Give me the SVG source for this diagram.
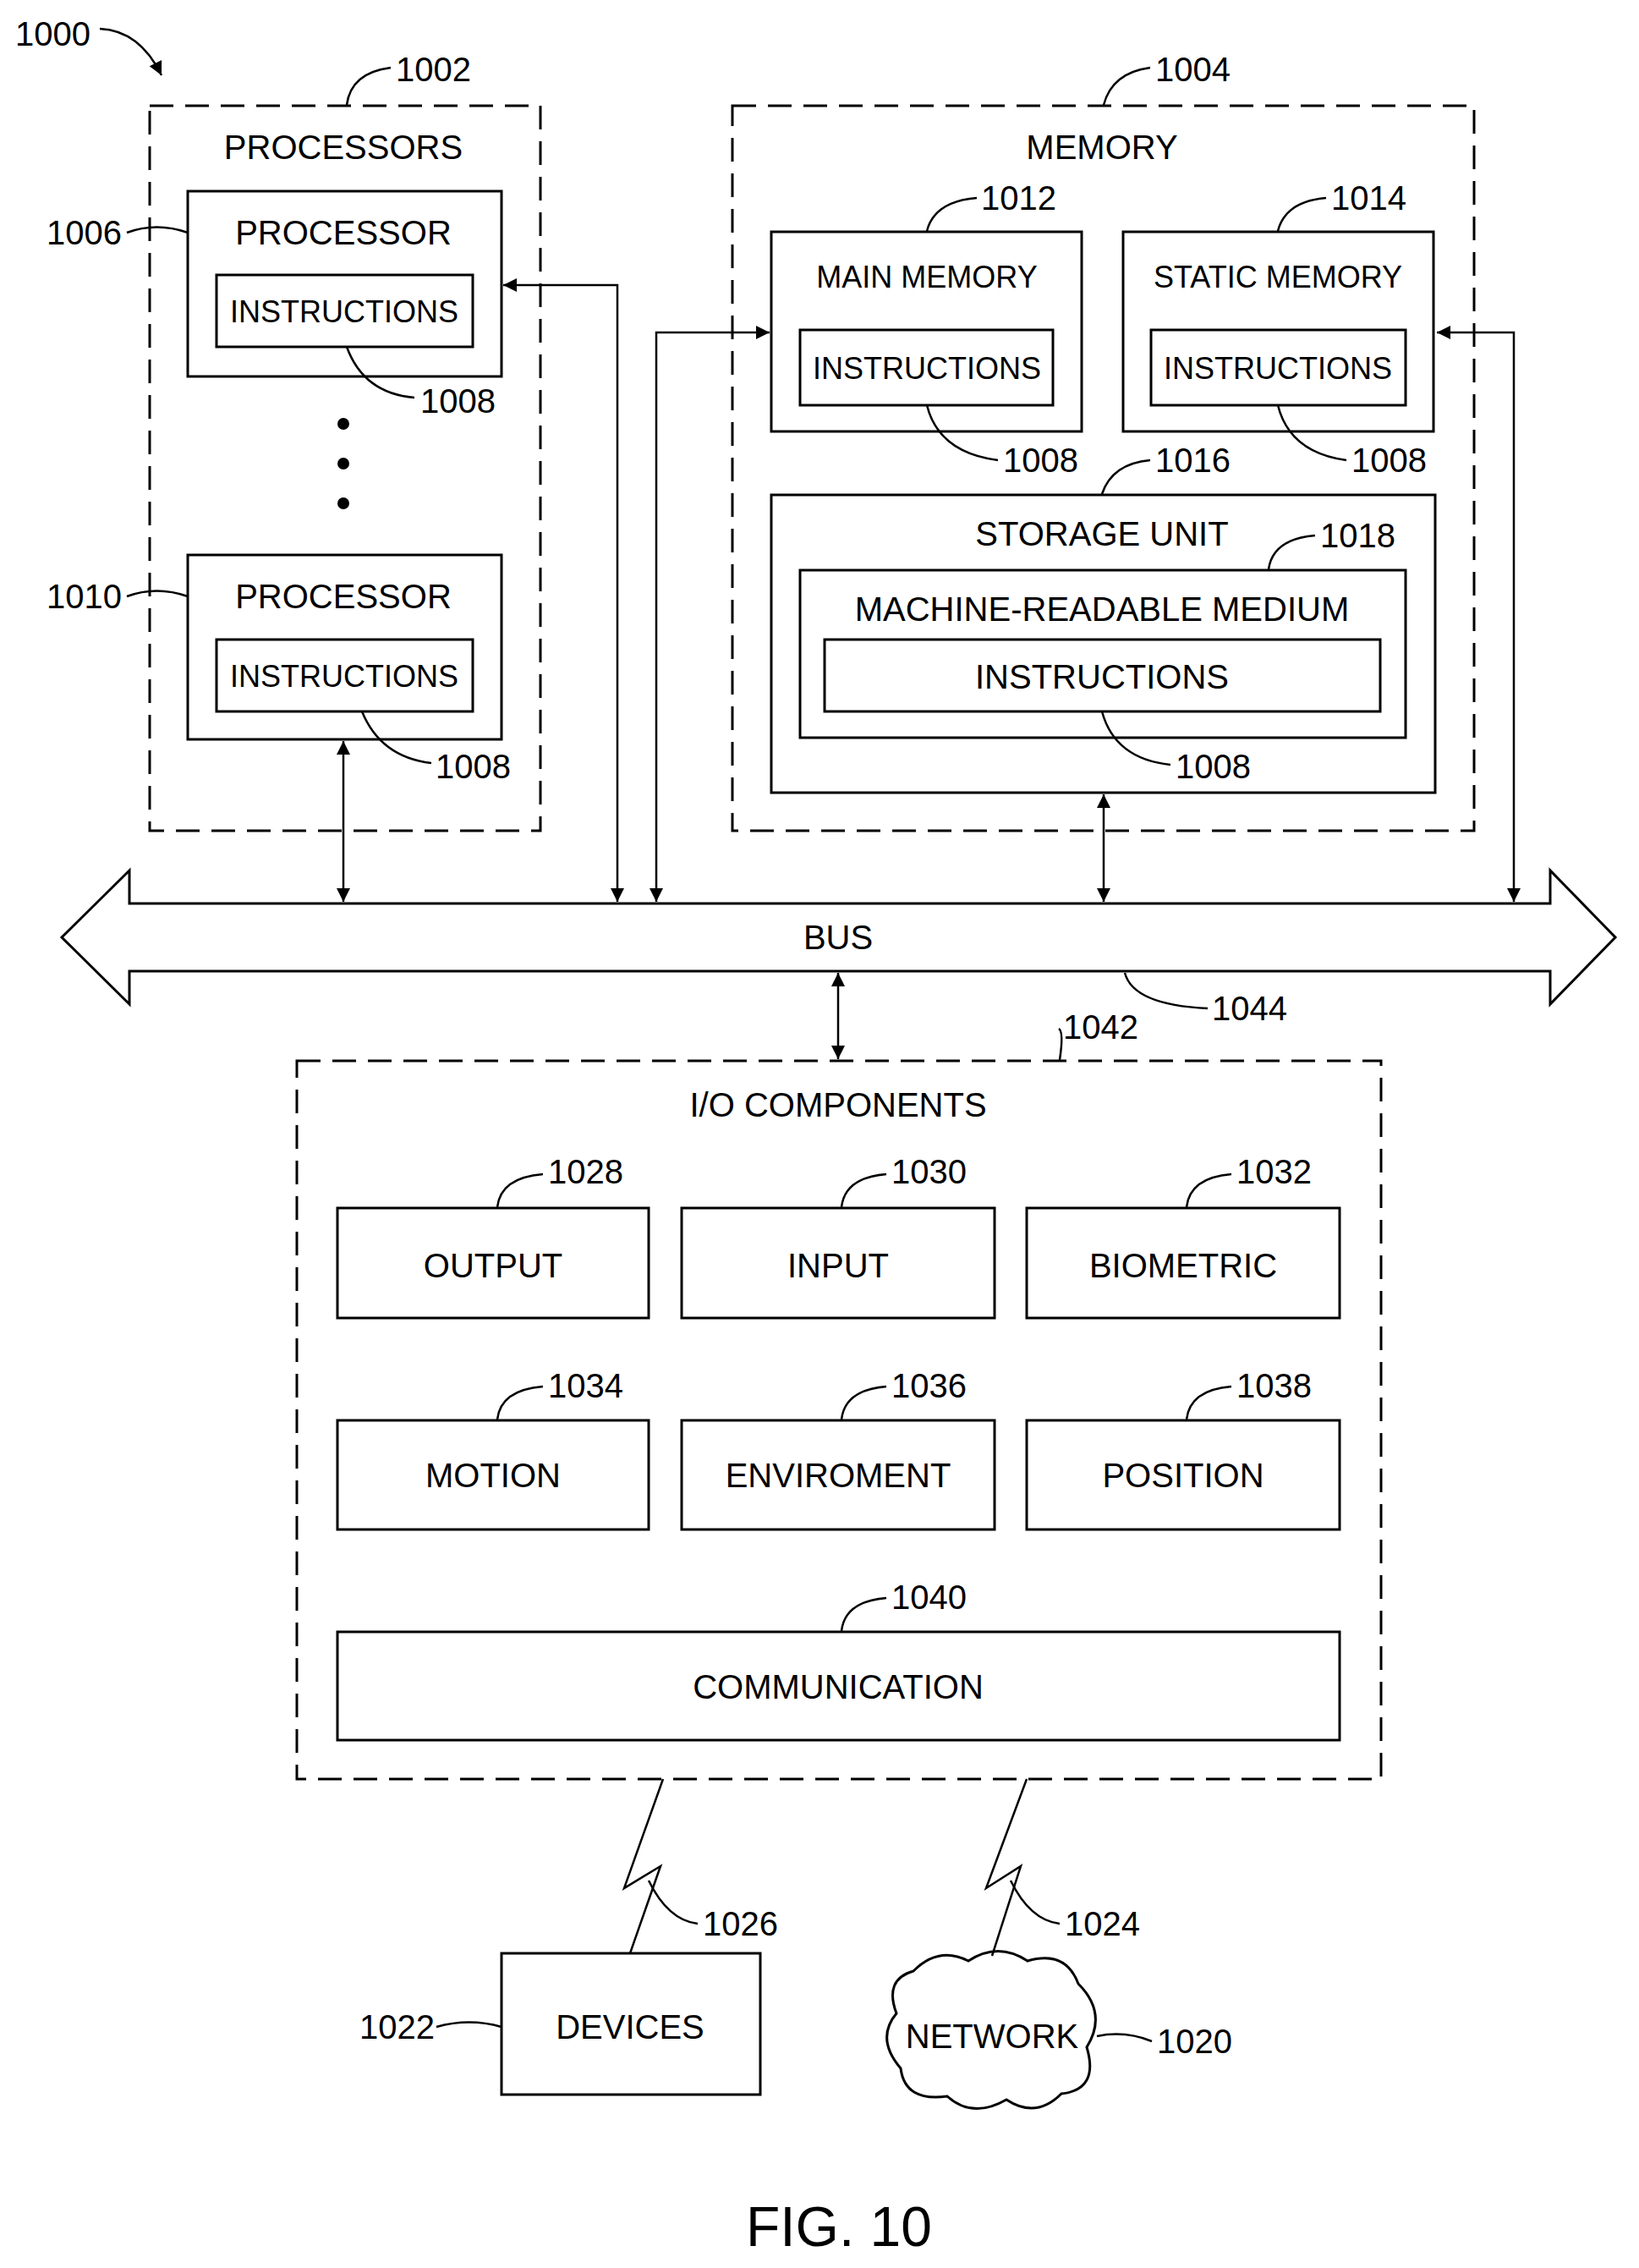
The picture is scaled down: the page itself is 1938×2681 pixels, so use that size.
<svg xmlns="http://www.w3.org/2000/svg" width="1938" height="2681" viewBox="0 0 1938 2681">
<defs>
<marker id="ah" viewBox="0 0 10 10" refX="10" refY="5" markerWidth="22" markerHeight="16" markerUnits="userSpaceOnUse" orient="auto-start-reverse"><path d="M0,0 L10,5 L0,10 z" fill="#000"/></marker>
<style>
text{font-family:"Liberation Sans",Arial,sans-serif;font-size:40px;fill:#000;text-anchor:middle}
.n{text-anchor:start}
.c{font-size:36px}
.box{fill:none;stroke:#000;stroke-width:3}
.dash{fill:none;stroke:#000;stroke-width:3;stroke-dasharray:28 14}
.ln{fill:none;stroke:#000;stroke-width:2.5}
.ar{fill:none;stroke:#000;stroke-width:2.5;marker-start:url(#ah);marker-end:url(#ah)}
</style>
</defs>
<rect width="1938" height="2681" fill="#fff"/>
<g id="fig">
<text class="n" x="18" y="54">1000</text>
<path class="ln" d="M118,34 Q165,36 191,89" marker-end="url(#ah)"/>
<text x="992" y="2655" style="font-size:66px">FIG. 10</text>
</g>
<g id="processors">
<rect class="dash" x="177" y="125" width="462" height="857"/>
<text x="406" y="188">PROCESSORS</text>
<text class="n" x="468" y="96">1002</text>
<path class="ln" d="M410,124 Q415,86 462,80"/>
</g>
<g id="proc1006">
<rect class="box" x="222" y="226" width="371" height="219"/>
<text x="406" y="289">PROCESSOR</text>
<rect class="box" x="256" y="325" width="303" height="85"/>
<text class="c" x="407" y="381">INSTRUCTIONS</text>
<text class="n" x="55" y="289">1006</text>
<path class="ln" d="M150,275 Q185,262 222,275"/>
<text class="n" x="497" y="488">1008</text>
<path class="ln" d="M410,410 Q430,465 490,470"/>
<circle cx="406" cy="501" r="7"/><circle cx="406" cy="548" r="7"/><circle cx="406" cy="595" r="7"/>
</g>
<g id="proc1010">
<rect class="box" x="222" y="656" width="371" height="218"/>
<text x="406" y="719">PROCESSOR</text>
<rect class="box" x="256" y="756" width="303" height="85"/>
<text class="c" x="407" y="812">INSTRUCTIONS</text>
<text class="n" x="55" y="719">1010</text>
<path class="ln" d="M150,705 Q185,692 222,705"/>
<text class="n" x="515" y="920">1008</text>
<path class="ln" d="M428,841 Q450,895 510,902"/>
</g>
<g id="memory">
<rect class="dash" x="866" y="125" width="877" height="857"/>
<text x="1303" y="188">MEMORY</text>
<text class="n" x="1366" y="96">1004</text>
<path class="ln" d="M1305,124 Q1315,86 1360,80"/>
</g>
<g id="main1012">
<rect class="box" x="912" y="274" width="367" height="236"/>
<text class="c" x="1096" y="340">MAIN MEMORY</text>
<rect class="box" x="946" y="390" width="299" height="89"/>
<text class="c" x="1096" y="448">INSTRUCTIONS</text>
<text class="n" x="1160" y="248">1012</text>
<path class="ln" d="M1096,273 Q1105,238 1155,234"/>
<text class="n" x="1186" y="558">1008</text>
<path class="ln" d="M1096,479 Q1110,535 1180,544"/>
</g>
<g id="static1014">
<rect class="box" x="1328" y="274" width="367" height="236"/>
<text class="c" x="1511" y="340">STATIC MEMORY</text>
<rect class="box" x="1361" y="390" width="301" height="89"/>
<text class="c" x="1511" y="448">INSTRUCTIONS</text>
<text class="n" x="1574" y="248">1014</text>
<path class="ln" d="M1511,273 Q1520,238 1568,234"/>
<text class="n" x="1598" y="558">1008</text>
<path class="ln" d="M1511,479 Q1525,535 1592,544"/>
</g>
<g id="storage1016">
<rect class="box" x="912" y="585" width="785" height="352"/>
<text x="1303" y="645">STORAGE UNIT</text>
<text class="n" x="1366" y="558">1016</text>
<path class="ln" d="M1303,584 Q1315,548 1360,544"/>
<rect class="box" x="946" y="674" width="716" height="198"/>
<text x="1303" y="734">MACHINE-READABLE MEDIUM</text>
<text class="n" x="1561" y="647">1018</text>
<path class="ln" d="M1500,673 Q1505,637 1555,633"/>
<rect class="box" x="975" y="756" width="657" height="85"/>
<text x="1303" y="814">INSTRUCTIONS</text>
<text class="n" x="1390" y="920">1008</text>
<path class="ln" d="M1303,841 Q1318,897 1384,904"/>
</g>
<g id="bus">
<path class="box" d="M73,1108 L153,1029 L153,1068 L1833,1068 L1833,1029 L1910,1108 L1833,1187 L1833,1148 L153,1148 L153,1187 Z"/>
<text x="991" y="1122">BUS</text>
<text class="n" x="1433" y="1206">1044</text>
<path class="ln" d="M1330,1150 Q1340,1188 1428,1192"/>
</g>
<g id="io">
<rect class="dash" x="351" y="1254" width="1282" height="849"/>
<text x="991" y="1320">I/O COMPONENTS</text>
<text class="n" x="1257" y="1228">1042</text>
<path class="ln" d="M1253,1253 Q1258,1220 1252,1216"/>
</g>
<g id="output"><rect class="box" x="399" y="1428" width="368" height="130"/><text x="583" y="1510">OUTPUT</text><text class="n" x="648" y="1399">1028</text><path class="ln" d="M588,1427 Q592,1392 642,1388"/></g>
<g id="input"><rect class="box" x="806" y="1428" width="370" height="130"/><text x="991" y="1510">INPUT</text><text class="n" x="1054" y="1399">1030</text><path class="ln" d="M995,1427 Q999,1392 1048,1388"/></g>
<g id="biometric"><rect class="box" x="1214" y="1428" width="370" height="130"/><text x="1399" y="1510">BIOMETRIC</text><text class="n" x="1462" y="1399">1032</text><path class="ln" d="M1403,1427 Q1407,1392 1456,1388"/></g>
<g id="motion"><rect class="box" x="399" y="1679" width="368" height="129"/><text x="583" y="1758">MOTION</text><text class="n" x="648" y="1652">1034</text><path class="ln" d="M588,1678 Q592,1643 642,1639"/></g>
<g id="enviroment"><rect class="box" x="806" y="1679" width="370" height="129"/><text x="991" y="1758">ENVIROMENT</text><text class="n" x="1054" y="1652">1036</text><path class="ln" d="M995,1678 Q999,1643 1048,1639"/></g>
<g id="position"><rect class="box" x="1214" y="1679" width="370" height="129"/><text x="1399" y="1758">POSITION</text><text class="n" x="1462" y="1652">1038</text><path class="ln" d="M1403,1678 Q1407,1643 1456,1639"/></g>
<g id="communication"><rect class="box" x="399" y="1929" width="1185" height="128"/><text x="991" y="2008">COMMUNICATION</text><text class="n" x="1054" y="1902">1040</text><path class="ln" d="M995,1928 Q999,1893 1048,1889"/></g>
<g id="devices">
<rect class="box" x="593" y="2309" width="306" height="167"/>
<text x="745" y="2410">DEVICES</text>
<text class="n" x="425" y="2410">1022</text>
<path class="ln" d="M516,2396 Q555,2385 593,2396"/>
</g>
<g id="network">
<path class="box" d="M1080,2330 Q1110,2300 1145,2318 Q1180,2295 1215,2318 Q1260,2305 1275,2345 Q1310,2380 1285,2420 Q1300,2470 1255,2475 Q1225,2505 1190,2482 Q1150,2505 1120,2478 Q1070,2485 1065,2445 Q1035,2410 1060,2380 Q1045,2340 1080,2330 Z"/>
<text x="1173" y="2421">NETWORK</text>
<text class="n" x="1368" y="2427">1020</text>
<path class="ln" d="M1297,2407 Q1330,2400 1362,2413"/>
</g>
<g id="connectors">
<line class="ar" x1="406" y1="876" x2="406" y2="1066"/>
<path class="ar" d="M595,337 L730,337 L730,1066"/>
<path class="ar" d="M776,1066 L776,393 L910,393"/>
<line class="ar" x1="1305" y1="939" x2="1305" y2="1066"/>
<path class="ar" d="M1699,393 L1790,393 L1790,1066"/>
<line class="ar" x1="991" y1="1150" x2="991" y2="1252"/>
<path class="ln" d="M784,2103 L738,2232 L781,2206 L745,2309"/>
<path class="ln" d="M1214,2103 L1166,2232 L1207,2206 L1173,2312"/>
<text class="n" x="831" y="2288">1026</text>
<path class="ln" d="M767,2223 Q790,2270 825,2274"/>
<text class="n" x="1259" y="2288">1024</text>
<path class="ln" d="M1195,2223 Q1218,2270 1253,2274"/>
</g>
</svg>
